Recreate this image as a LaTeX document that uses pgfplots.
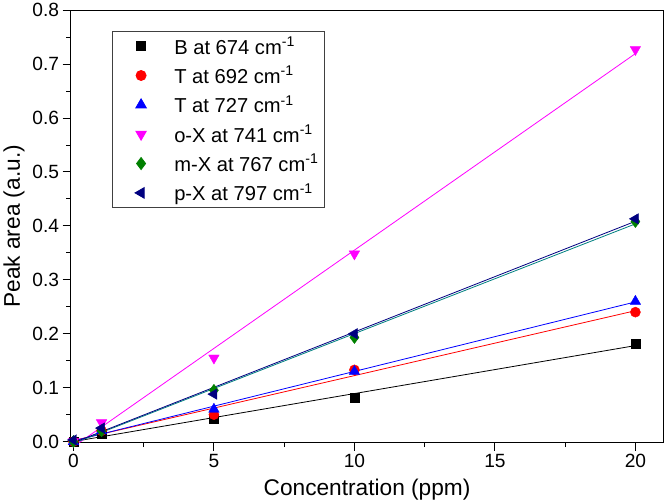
\documentclass[border=0pt]{standalone}
\usepackage{pgfplots}
\pgfplotsset{compat=1.18}
\usepackage{fontspec}
\setmainfont{Liberation Sans}
\definecolor{cB}{HTML}{000000}
\definecolor{cT1}{HTML}{FF0000}
\definecolor{cT2}{HTML}{0000FF}
\definecolor{cOX}{HTML}{FF00FF}
\definecolor{cMX}{HTML}{008000}
\definecolor{cMXfit}{HTML}{008080}
\definecolor{cPX}{HTML}{000080}
\begin{document}
\begin{tikzpicture}[x=1bp,y=1bp]
\begin{axis}[
    scale only axis,
    width=588bp, height=429bp,
    xmin=-0.1, xmax=21,
    ymin=-0.002, ymax=0.8,
    xtick={0,5,10,15,20},
    minor xtick={2.5,7.5,12.5,17.5},
    ytick={0,0.1,0.2,0.3,0.4,0.5,0.6,0.7,0.8},
    minor ytick={0.05,0.15,0.25,0.35,0.45,0.55,0.65,0.75},
    yticklabel style={/pgf/number format/.cd,fixed,fixed zerofill,precision=1},
    /pgf/number format/assume math mode=true,
    tick pos=left,
    tick align=outside,
    major tick length=8bp,
    minor tick length=4.5bp,
    every tick/.style={black, line width=0.9pt},
    axis line style={line width=1pt},
    ticklabel style={font=\fontsize{19bp}{21bp}\selectfont},
    xlabel={Concentration (ppm)},
    ylabel={Peak area (a.u.)},
    label style={font=\fontsize{22.5bp}{25bp}\selectfont},
    xlabel style={yshift=-4bp},
    ylabel style={yshift=1bp},
    clip=true,
    legend image code/.code={%
        \path (-16bp,0) (0.6cm,0);
        \draw[mark repeat=2,mark phase=2] plot coordinates {(0cm,0cm)(0.3cm,0cm)(0.6cm,0cm)};},
    legend cell align=left,
    legend style={at={(0.069,0.951)}, anchor=north west, draw=black!75,
        line width=0.8pt, font=\fontsize{20bp}{22bp}\selectfont,
        row sep=6.5bp, column sep=22bp, inner xsep=4bp, inner ysep=3bp},
]
% fitted lines
\addplot[cB, line width=0.8pt, forget plot] coordinates {(0,0.0001)(20,0.178)};
\addplot[cT1, line width=0.8pt, forget plot] coordinates {(0,0.002)(20,0.2427)};
\addplot[cT2, line width=0.8pt, forget plot] coordinates {(0,0.0013)(20,0.259)};
\addplot[cOX, line width=0.8pt, forget plot] coordinates {(0,-0.0094)(20,0.7194)};
\addplot[cMXfit, line width=0.8pt, forget plot] coordinates {(0,-0.0033)(20,0.4037)};
\addplot[cPX, line width=0.8pt, forget plot] coordinates {(0,-0.002)(20,0.4085)};
% measured points
\addplot[only marks, mark=square*, mark size=4.5bp, color=cB]
    coordinates {(0,0)(1,0.015)(5,0.042)(10,0.082)(20,0.182)};
\addplot[only marks, mark=*, mark size=5bp, color=cT1]
    coordinates {(0,0)(1,0.02)(5,0.05)(10,0.133)(20,0.24)};
\addplot[only marks, mark=triangle*, mark size=6bp, color=cT2]
    coordinates {(0,0)(1,0.02)(5,0.06)(10,0.13)(20,0.26)};
\addplot[only marks, mark=triangle*, mark options={rotate=180}, mark size=6bp, color=cOX]
    coordinates {(0,0)(1,0.035)(5,0.155)(10,0.348)(20,0.727)};
\addplot[only marks, mark=diamond*, mark size=6bp, color=cMX]
    coordinates {(0,0)(1,0.02)(5,0.095)(10,0.193)(20,0.408)};
\addplot[only marks, mark=triangle*, mark options={rotate=90}, mark size=6bp, color=cPX]
    coordinates {(0,0.003)(1,0.025)(5,0.088)(10,0.2)(20,0.413)};
\legend{B at 674 cm\textsuperscript{-1}, T at 692 cm\textsuperscript{-1},
    T at 727 cm\textsuperscript{-1}, o-X at 741 cm\textsuperscript{-1},
    m-X at 767 cm\textsuperscript{-1}, p-X at 797 cm\textsuperscript{-1}}
\end{axis}
\end{tikzpicture}
\end{document}
